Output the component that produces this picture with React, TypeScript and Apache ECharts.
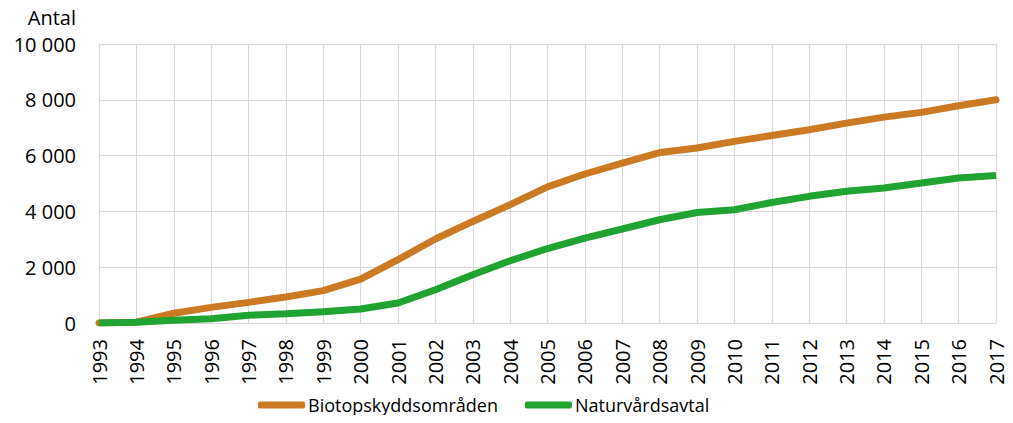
import React, { useEffect, useRef } from "react";
import * as echarts from "echarts";

const years = ["1993","1994","1995","1996","1997","1998","1999","2000","2001","2002","2003","2004","2005","2006","2007","2008","2009","2010","2011","2012","2013","2014","2015","2016","2017"];
const biotop = [0, 30, 350, 560, 740, 930, 1160, 1575, 2270, 3010, 3640, 4240, 4880, 5340, 5730, 6110, 6270, 6510, 6720, 6925, 7165, 7380, 7550, 7785, 8000];
const natur = [0, 30, 95, 155, 275, 333, 405, 500, 715, 1190, 1730, 2230, 2670, 3045, 3370, 3700, 3960, 4060, 4320, 4540, 4720, 4840, 5015, 5195, 5290];

const FONT = "'Open Sans', sans-serif";

export default function App() {
  const ref = useRef<HTMLDivElement>(null);
  useEffect(() => {
    const chart = echarts.init(ref.current!, null, { renderer: "svg" });
    chart.setOption({
      animation: false,
      textStyle: { fontFamily: FONT },
      grid: { left: 99, right: 17, top: 44, bottom: 100, containLabel: false },
      graphic: [
        {
          type: "text",
          x: 76,
          y: 17,
          style: {
            text: "Antal",
            fontFamily: FONT,
            fontSize: 20,
            fill: "#000",
            align: "right",
            verticalAlign: "middle",
          },
        },
      ],
      legend: {
        left: 258,
        top: 396,
        padding: 0,
        itemWidth: 47,
        itemHeight: 7,
        itemGap: 27,
        icon: "roundRect",
        textStyle: { fontFamily: FONT, fontSize: 18, color: "#000", padding: [0, 0, 0, -2] },
        data: ["Biotopskyddsområden", "Naturvårdsavtal"],
      },
      xAxis: {
        type: "category",
        data: years,
        boundaryGap: false,
        axisLine: { lineStyle: { color: "#d9d9d9", width: 1 } },
        axisTick: { show: false },
        splitLine: { show: true, lineStyle: { color: "#d9d9d9", width: 1 } },
        axisLabel: { rotate: 90, margin: 16, fontSize: 20, color: "#000", fontFamily: FONT, interval: 0 },
      },
      yAxis: {
        type: "value",
        min: 0,
        max: 10000,
        interval: 2000,
        axisLine: { show: false },
        axisTick: { show: false },
        splitLine: { lineStyle: { color: "#d9d9d9", width: 1 } },
        axisLabel: {
          margin: 23,
          fontSize: 20,
          color: "#000",
          fontFamily: FONT,
          formatter: (v: number) => String(v).replace(/\B(?=(\d{3})+(?!\d))/g, " "),
        },
      },
      series: [
        {
          name: "Biotopskyddsområden",
          type: "line",
          data: biotop,
          symbol: "none",
          lineStyle: { color: "#CB7A23", width: 7, cap: "round" },
          itemStyle: { color: "#CB7A23" },
        },
        {
          name: "Naturvårdsavtal",
          type: "line",
          data: natur,
          symbol: "none",
          lineStyle: { color: "#21A332", width: 7 },
          itemStyle: { color: "#21A332" },
        },
      ],
    });
    return () => chart.dispose();
  }, []);
  return <div ref={ref} style={{ width: 1013, height: 423, margin: -8 }} />;
}
